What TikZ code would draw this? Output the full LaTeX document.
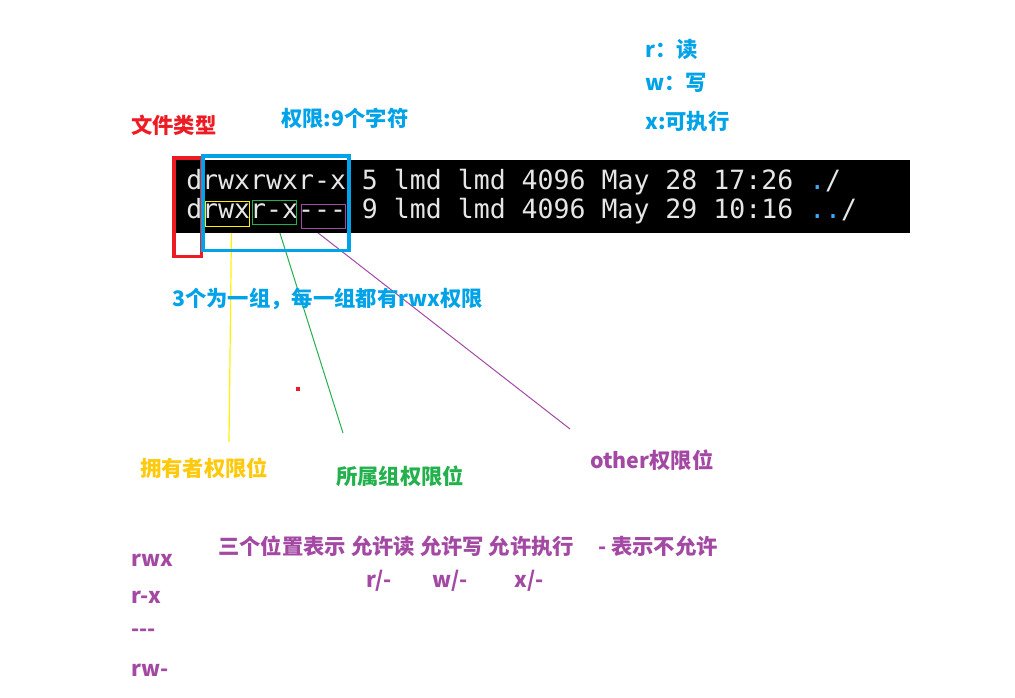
\documentclass[tikz,border=0pt]{standalone}
\usepackage{fontspec}
\setmonofont{DejaVu Sans Mono}
\newfontfamily\cjk{Noto Sans CJK SC}
\definecolor{typered}{HTML}{ED1C24}
\definecolor{permblue}{HTML}{00A2E8}
\definecolor{ownyellow}{HTML}{FFC90E}
\definecolor{ownline}{HTML}{FFF200}
\definecolor{grpgreen}{HTML}{22B14C}
\definecolor{othpurple}{HTML}{A349A4}
\definecolor{termfg}{HTML}{E6E6E6}
\definecolor{dotblue}{HTML}{3FA9F5}
\tikzset{
  lbl/.style={anchor=west, inner sep=0pt, font=\cjk\bfseries\fontsize{16}{19}\selectfont},
  term/.style={anchor=base west, inner sep=0pt, text=termfg, font=\ttfamily\fontsize{19.9}{22}\selectfont},
  permbox/.style={draw, line width=0.8pt, inner sep=0pt, minimum width=33pt, minimum height=18.5pt},
  bigbox/.style={draw, line width=2.5pt, inner sep=0pt},
}
\begin{document}
\begin{tikzpicture}[x=0.75pt,y=-0.75pt]
\useasboundingbox (0,0) rectangle (1015,698);
% leader lines (start under the terminal)
\node[permbox, draw=none] (own0) at (227.5,214) {};
\node[permbox, draw=none] (grp0) at (274.5,212.5) {};
\node[permbox, draw=none] (oth0) at (323.5,216.5) {};
\coordinate (ownend) at (229,442);
\coordinate (grpend) at (343,433);
\coordinate (othend) at (570,429);
\draw[ownline, line width=0.9pt] ([xshift=3pt]own0.south) -- (ownend);
\draw[grpgreen, line width=0.75pt] ([xshift=2.25pt]grp0.south) -- (grpend);
\draw[othpurple, line width=0.75pt] ([xshift=-7.5pt]oth0.south) -- (othend);
% terminal
\fill[black] (173,160) rectangle (910,233);
\node[term] (row1) at (186,190) {drwxrwxr-x 5 lmd lmd 4096 May 28 17:26 \textcolor{dotblue}{.}/};
\node[term] (row2) at (186,219) {drwxr-x--- 9 lmd lmd 4096 May 29 10:16 \textcolor{dotblue}{..}/};
% boxes
\node[bigbox, draw=typered, minimum width=20.5pt, minimum height=74pt] (typebox) at (187.5,207.5) {};
\node[bigbox, draw=permblue, minimum width=109.5pt, minimum height=71pt] (permbox) at (276,203.5) {};
\node[permbox, draw=ownline] (own) at (227.5,214) {};
\node[permbox, draw=grpgreen] (grp) at (274.5,212.5) {};
\node[permbox, draw=othpurple] (oth) at (323.5,216.5) {};
\fill[typered] (296,387) rectangle (300,391);
% labels
\node[lbl, text=typered] (typelbl) at (131,125) {文件类型};
\node[lbl, text=permblue] (permlbl) at (281,118) {权限:9个字符};
\node[lbl, text=permblue] (rlbl) at (645,49) {r：读};
\node[lbl, text=permblue] (wlbl) at (645,83) {w：写};
\node[lbl, text=permblue] (xlbl) at (645,121) {x:可执行};
\node[lbl, text=permblue] (grouplbl) at (172,299) {3个为一组，每一组都有rwx权限};
\node[lbl, text=ownyellow] (ownlbl) at (140,468) {拥有者权限位};
\node[lbl, text=grpgreen] (grplbl) at (336,476) {所属组权限位};
\node[lbl, text=othpurple] (othlbl) at (590,460) {other权限位};
\node[lbl, text=othpurple] (meanlbl) at (218,546) {三个位置表示 允许读 允许写 允许执行\hspace{18pt}- 表示不允许};
\node[lbl, text=othpurple] (rmark) at (366,581) {r/-};
\node[lbl, text=othpurple] (wmark) at (432,581) {w/-};
\node[lbl, text=othpurple] (xmark) at (514,581) {x/-};
\node[lbl, text=othpurple] (ex1) at (131,560) {rwx};
\node[lbl, text=othpurple] (ex2) at (131,597) {r-x};
\node[lbl, text=othpurple] (ex3) at (131,633) {---};
\node[lbl, text=othpurple] (ex4) at (131,670) {rw-};
\end{tikzpicture}
\end{document}
